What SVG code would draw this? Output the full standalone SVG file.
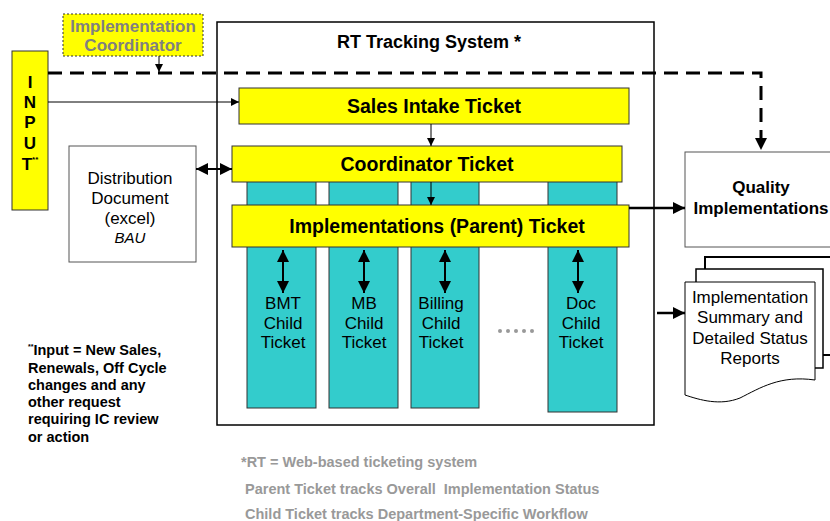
<svg xmlns="http://www.w3.org/2000/svg" width="830" height="521" viewBox="0 0 830 521">
<style>
text{font-family:"Liberation Sans",Arial,sans-serif}
.y{fill:#FFFF00;stroke:#333;stroke-width:1}
.t{fill:#33CCCC;stroke:#333;stroke-width:1}
.w{fill:#fff;stroke:#555;stroke-width:1}
.hb{font-weight:bold;font-size:19.5px;fill:#000;text-anchor:middle}
.c{font-size:17px;fill:#000;text-anchor:middle}
.fn{font-weight:bold;font-size:14.5px;fill:#000}
.g{font-weight:bold;font-size:14.5px;fill:#999}
.ln{stroke:#000;fill:none}
</style>
<defs>
<marker id="a" viewBox="0 0 10 10" refX="10" refY="5" markerWidth="8" markerHeight="8" markerUnits="userSpaceOnUse" orient="auto-start-reverse"><path d="M0,0L10,5L0,10z" fill="#000"/></marker>
<marker id="ab" viewBox="0 0 10 10" refX="10" refY="5" markerWidth="12" markerHeight="12" markerUnits="userSpaceOnUse" orient="auto-start-reverse"><path d="M0,0L10,5L0,10z" fill="#000"/></marker>
</defs>
<rect width="830" height="521" fill="#fff"/>

<g id="rt-system">
<rect x="217" y="22" width="437" height="403" fill="#fff" stroke="#000" stroke-width="1.5"/>
<text x="429" y="48" style="font-weight:bold;font-size:18px;text-anchor:middle">RT Tracking System *</text>
</g>

<g id="child-columns">
<rect class="t" x="247" y="176" width="69" height="232"/>
<rect class="t" x="329" y="176" width="69" height="232"/>
<rect class="t" x="411" y="176" width="68" height="232"/>
<rect class="t" x="548" y="176" width="69" height="236"/>
</g>

<g id="input">
<rect class="y" x="12" y="51" width="36" height="159"/>
<g style="font-weight:bold;font-size:17px;text-anchor:middle">
<text x="30" y="88">I</text>
<text x="30" y="108">N</text>
<text x="30" y="128">P</text>
<text x="30" y="149">U</text>
<text x="30" y="170">T<tspan font-size="8" dy="-8">**</tspan></text>
</g>
</g>

<g id="impl-coordinator">
<rect x="63" y="14" width="140" height="42" fill="#FFFF00" stroke="#333" stroke-dasharray="2,2"/>
<text x="133" y="32" style="font-weight:bold;font-size:17px;fill:#808080;text-anchor:middle">Implementation</text>
<text x="133" y="51" style="font-weight:bold;font-size:17px;fill:#808080;text-anchor:middle">Coordinator</text>
</g>

<g id="sales-intake">
<rect class="y" x="239" y="88" width="390" height="36"/>
<text class="hb" x="434" y="113">Sales Intake Ticket</text>
</g>

<g id="coordinator-ticket">
<rect class="y" x="232" y="146" width="390" height="36"/>
<text class="hb" x="427" y="171">Coordinator Ticket</text>
</g>

<g id="parent-ticket">
<rect class="y" x="232" y="205" width="397" height="42"/>
<text class="hb" x="437" y="233">Implementations (Parent) Ticket</text>
</g>

<g id="child-labels">
<text class="c" x="283" y="309">BMT</text>
<text class="c" x="283" y="329">Child</text>
<text class="c" x="283" y="348">Ticket</text>
<text class="c" x="364" y="309">MB</text>
<text class="c" x="364" y="329">Child</text>
<text class="c" x="364" y="348">Ticket</text>
<text class="c" x="441" y="309">Billing</text>
<text class="c" x="441" y="329">Child</text>
<text class="c" x="441" y="348">Ticket</text>
<text class="c" x="581" y="309">Doc</text>
<text class="c" x="581" y="329">Child</text>
<text class="c" x="581" y="348">Ticket</text>
<g fill="#999">
<circle cx="500" cy="331" r="2"/><circle cx="508" cy="331" r="2"/><circle cx="516" cy="331" r="2"/><circle cx="524" cy="331" r="2"/><circle cx="532" cy="331" r="2"/>
</g>
</g>

<g id="distribution">
<rect class="w" x="69" y="146" width="127" height="116"/>
<text class="c" x="130" y="184">Distribution</text>
<text class="c" x="130" y="204">Document</text>
<text class="c" x="130" y="224">(excel)</text>
<text x="130" y="243" style="font-size:15px;font-style:italic;text-anchor:middle">BAU</text>
</g>

<g id="quality">
<rect class="w" x="685" y="152" width="155" height="95"/>
<text x="761" y="193" style="font-weight:bold;font-size:17px;text-anchor:middle">Quality</text>
<text x="761" y="214" style="font-weight:bold;font-size:17px;text-anchor:middle">Implementations</text>
</g>

<g id="reports">
<rect x="705" y="257" width="135" height="98" fill="#fff" stroke="#000" stroke-width="2"/>
<rect x="696" y="269" width="127" height="99" fill="#fff" stroke="#000" stroke-width="1.5"/>
<path d="M685,282H815V380C780,375 760,388 740,398C720,406 700,400 685,395Z" fill="#fff" stroke="#000" stroke-width="1"/>
<text class="c" x="750" y="303">Implementation</text>
<text class="c" x="750" y="323">Summary and</text>
<text class="c" x="750" y="344">Detailed Status</text>
<text class="c" x="750" y="364">Reports</text>
</g>

<g id="connectors">
<path class="ln" d="M48,73H761V150" stroke-width="3" stroke-dasharray="14,8" marker-end="url(#ab)"/>
<line class="ln" x1="159" y1="56" x2="159" y2="72" stroke-width="1" marker-end="url(#a)"/>
<line class="ln" x1="48" y1="102" x2="239" y2="102" stroke-width="1" marker-end="url(#a)"/>
<line class="ln" x1="431" y1="124" x2="431" y2="146" stroke-width="1" marker-end="url(#a)"/>
<line class="ln" x1="431" y1="182" x2="431" y2="205" stroke-width="1" marker-end="url(#a)"/>
<line class="ln" x1="196" y1="169" x2="232" y2="169" stroke-width="2" marker-start="url(#ab)" marker-end="url(#ab)"/>
<line class="ln" x1="283" y1="250" x2="283" y2="293" stroke-width="2" marker-start="url(#ab)" marker-end="url(#ab)"/>
<line class="ln" x1="364" y1="250" x2="364" y2="293" stroke-width="2" marker-start="url(#ab)" marker-end="url(#ab)"/>
<line class="ln" x1="445" y1="250" x2="445" y2="293" stroke-width="2" marker-start="url(#ab)" marker-end="url(#ab)"/>
<line class="ln" x1="578" y1="250" x2="578" y2="293" stroke-width="2" marker-start="url(#ab)" marker-end="url(#ab)"/>
<line class="ln" x1="629" y1="208" x2="685" y2="208" stroke-width="2.5" marker-end="url(#ab)"/>
<line class="ln" x1="657" y1="313" x2="685" y2="313" stroke-width="2.5" marker-end="url(#ab)"/>
</g>

<g id="notes">
<text class="fn" x="28" y="355"><tspan font-size="7" dy="-6">**</tspan><tspan dy="6">Input = New Sales,</tspan></text>
<text class="fn" x="28" y="373">Renewals, Off Cycle</text>
<text class="fn" x="28" y="390">changes and any</text>
<text class="fn" x="28" y="407">other request</text>
<text class="fn" x="28" y="424">requiring IC review</text>
<text class="fn" x="28" y="442">or action</text>
<text class="g" x="241" y="467">*RT = Web-based ticketing system</text>
<text class="g" x="245" y="494" xml:space="preserve">Parent Ticket tracks Overall  Implementation Status</text>
<text class="g" x="245" y="519">Child Ticket tracks Department-Specific Workflow</text>
</g>
</svg>
